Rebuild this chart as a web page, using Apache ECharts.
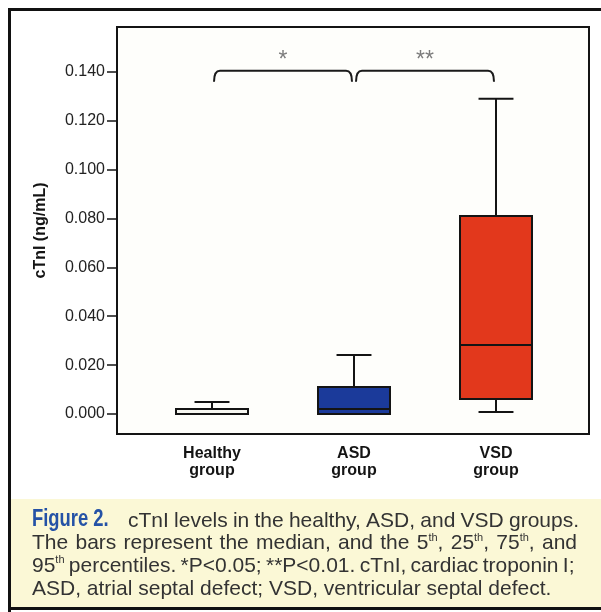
<!DOCTYPE html>
<html><head><meta charset="utf-8">
<script src="https://cdn.jsdelivr.net/npm/echarts@6/dist/echarts.min.js"></script>
<style>html,body{margin:0;padding:0;background:#fff}#c{width:601px;height:612px}</style>
</head><body><div id="c"></div>
<script>
// ---- data ----
const categories = ['Healthy\ngroup', 'ASD\ngroup', 'VSD\ngroup'];
const p5     = [0.0000, 0.0000, 0.0008];
const p25    = [0.0000, 0.0000, 0.0061];
const median = [0.0000, 0.0020, 0.0282];
const p75    = [0.0020, 0.0110, 0.0810];
const p95    = [0.0049, 0.0241, 0.1290];
const yTicks = [0, 0.02, 0.04, 0.06, 0.08, 0.10, 0.12, 0.14];
const braceFrom = [0, 1];
const braceTo = [1, 2];
const braceLabels = ['*', '**'];
const braceLevel = 0.1405;
const braceTip = 0.1360;
const yMin = -0.0082, yMax = 0.1584;
const boxColors = ['#f6f6f0', '#1b3a9a', '#e2381c'];
const figLabel = 'Figure 2.';
const captionLines = [
  'cTnI levels in the healthy, ASD, and VSD groups.',
  'The bars represent the median, and the 5{sup|th}, 25{sup|th}, 75{sup|th}, and',
  '95{sup|th} percentiles. *P<0.05; **P<0.01. cTnI, cardiac troponin I;',
  'ASD, atrial septal defect; VSD, ventricular septal defect.'
];

const FONT = "'Liberation Sans', Arial, sans-serif";
const BODY_SIZE = 21, SUP_SIZE = 11;
const chart = echarts.init(document.getElementById('c'), null, {renderer: 'canvas'});

// --- caption justification helper (measures words, widens the gaps) ---
const mctx = document.createElement('canvas').getContext('2d');
function measure(t, size) { mctx.font = size + 'px ' + FONT; return mctx.measureText(t).width; }
function wordsOf(line) {
  const words = [];
  const re = /\{(\w+)\|([^}]*)\}|([^{]+)/g;
  let m, cur = {rich: '', w: 0};
  while ((m = re.exec(line))) {
    if (m[1]) { cur.rich += `{${m[1]}|${m[2]}}`; cur.w += measure(m[2], SUP_SIZE); }
    else {
      const parts = m[3].split(' ');
      parts.forEach((p, k) => {
        if (k > 0) { words.push(cur); cur = {rich: '', w: 0}; }
        cur.rich += p; cur.w += measure(p, BODY_SIZE);
      });
    }
  }
  words.push(cur);
  return words.filter(w => w.rich.length);
}
function captionText(line, x0, x1, justify) {
  const words = wordsOf(line);
  if (!justify || words.length < 2) return {text: line, gap: null};
  const sum = words.reduce((a, w) => a + w.w, 0);
  const gap = (x1 - x0 - sum) / (words.length - 1);
  return {text: words.map(w => w.rich).join('{g| }'), gap: gap};
}

const boxData = categories.map((c, i) => [i, p5[i], p25[i], median[i], p75[i], p95[i]]);
const braceData = braceFrom.map((f, i) => [f, braceTo[i], braceLevel, braceTip]);

function renderBox(params, api) {
  const i = api.value(0);
  const band = api.size([1, 0])[0];
  const bw = band * 0.507, cw = band * 0.246;
  const cx = api.coord([i, 0])[0];
  const y = k => api.coord([i, api.value(k)])[1];
  const y5 = y(1), y25 = y(2), ym = y(3), y75 = y(4), y95 = y(5);
  const st = {stroke: '#141414', lineWidth: 2, fill: null};
  return {
    type: 'group',
    children: [
      {type: 'line', shape: {x1: cx, y1: y75, x2: cx, y2: y95}, style: st},
      {type: 'line', shape: {x1: cx - cw / 2, y1: y95, x2: cx + cw / 2, y2: y95}, style: st},
      {type: 'line', shape: {x1: cx, y1: y25, x2: cx, y2: y5}, style: st},
      {type: 'line', shape: {x1: cx - cw / 2, y1: y5, x2: cx + cw / 2, y2: y5}, style: st},
      {type: 'rect', shape: {x: cx - bw / 2, y: y75, width: bw, height: y25 - y75},
        style: {fill: boxColors[params.dataIndex], stroke: '#141414', lineWidth: 2}},
      {type: 'line', shape: {x1: cx - bw / 2, y1: ym, x2: cx + bw / 2, y2: ym}, style: st}
    ]
  };
}

function renderBrace(params, api) {
  const x0 = api.coord([api.value(0), 0])[0] + 2;
  const x1 = api.coord([api.value(1), 0])[0] - 2;
  const yt = api.coord([0, api.value(2)])[1];
  const yl = api.coord([0, api.value(3)])[1];
  const r = 6;
  const d = `M${x0} ${yl} Q${x0} ${yt} ${x0 + r} ${yt} L${x1 - r} ${yt} Q${x1} ${yt} ${x1} ${yl}`;
  return {
    type: 'group',
    children: [
      {type: 'path', shape: {pathData: d}, style: {stroke: '#1a1a1a', lineWidth: 2, fill: null}},
      {type: 'text', style: {text: braceLabels[params.dataIndex], x: (x0 + x1) / 2, y: yt - 10,
        align: 'center', verticalAlign: 'middle', fontSize: 23, fill: '#7c7c7c', fontFamily: FONT}}
    ]
  };
}

const lineY = [521, 543.7, 566.3, 589];
const captionGraphics = captionLines.map((t, k) => {
  const x0 = k === 0 ? 128 : 32;
  const c = captionText(t, x0, k === 0 ? 579 : (k === 1 ? 577 : 574.5), k < 3);
  const rich = {sup: {fontSize: SUP_SIZE, lineHeight: 12, verticalAlign: 'top', fill: '#333', fontFamily: FONT}};
  if (c.gap !== null) rich.g = {width: c.gap, fontSize: BODY_SIZE, lineHeight: 23, fontFamily: FONT};
  return {
    type: 'text', x: x0, y: lineY[k],
    style: {text: c.text, fontSize: BODY_SIZE, fill: '#333', fontFamily: FONT, lineHeight: 23,
      verticalAlign: 'middle', align: 'left', rich: rich}
  };
});

const option = {
  animation: false,
  backgroundColor: 'transparent',
  textStyle: {fontFamily: FONT},
  grid: [
    {left: 117, top: 27, width: 472, height: 407, show: true, borderColor: '#141414', borderWidth: 2,
      backgroundColor: '#fefefb', containLabel: false},
    {left: 141, top: 27, width: 426, height: 407, containLabel: false}
  ],
  xAxis: [
    {type: 'category', gridIndex: 0, data: categories, axisLine: {show: false},
      axisTick: {show: false}, axisLabel: {show: false}, splitLine: {show: false}},
    {type: 'category', gridIndex: 1, data: categories, axisLine: {show: false},
      axisTick: {show: false}, splitLine: {show: false},
      axisLabel: {fontSize: 16, fontWeight: 'bold', color: '#141414', lineHeight: 17, margin: 11,
        fontFamily: FONT, interval: 0}}
  ],
  yAxis: [
    {type: 'value', gridIndex: 0, min: yMin, max: yMax, splitLine: {show: false},
      axisLine: {show: true, lineStyle: {color: '#141414', width: 2}},
      axisTick: {show: true, length: 10, lineStyle: {color: '#141414', width: 1.5}, customValues: yTicks},
      axisLabel: {customValues: yTicks, formatter: v => v.toFixed(3), fontSize: 16, color: '#222',
        margin: 12, fontFamily: FONT},
      name: 'cTnI (ng/mL)', nameLocation: 'middle', nameRotate: 90, nameGap: 68,
      nameTextStyle: {fontSize: 16, fontWeight: 'bold', color: '#141414', fontFamily: FONT}},
    {type: 'value', gridIndex: 1, min: yMin, max: yMax, show: false, splitLine: {show: false}}
  ],
  series: [
    {type: 'custom', name: 'cTnI', xAxisIndex: 1, yAxisIndex: 1, data: boxData, renderItem: renderBox, clip: false, z: 3},
    {type: 'custom', name: 'significance', xAxisIndex: 1, yAxisIndex: 1, data: braceData, renderItem: renderBrace, clip: false, z: 3}
  ],
  graphic: [
    {type: 'rect', shape: {x: 11, y: 499, width: 590, height: 108}, style: {fill: '#fbf8d6'}, z: -10, silent: true},
    {type: 'line', shape: {x1: 8, y1: 9.5, x2: 601, y2: 9.5}, style: {stroke: '#111', lineWidth: 3}},
    {type: 'line', shape: {x1: 9.5, y1: 8, x2: 9.5, y2: 612}, style: {stroke: '#111', lineWidth: 3}},
    {type: 'line', shape: {x1: 8, y1: 608.5, x2: 601, y2: 608.5}, style: {stroke: '#111', lineWidth: 3}},
    {type: 'text', x: 32, y: 520, scaleX: 0.8, scaleY: 1, originX: 0, originY: 0,
      style: {text: figLabel, fontSize: 23, fontWeight: 'bold', fill: '#2452a6', fontFamily: FONT,
        verticalAlign: 'middle', align: 'left'}},
    ...captionGraphics
  ]
};
chart.setOption(option);
</script></body></html>
